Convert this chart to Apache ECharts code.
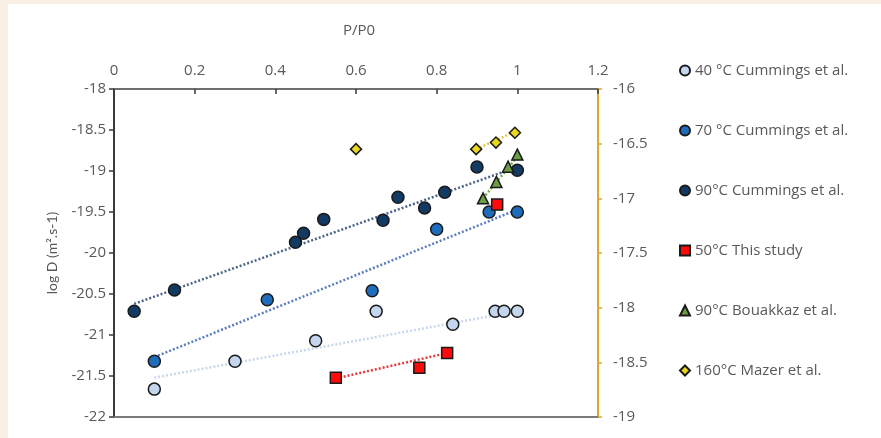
<!DOCTYPE html>
<html>
<head>
<meta charset="utf-8">
<script src="https://cdn.jsdelivr.net/npm/echarts@6/dist/echarts.min.js"></script>
<style>
html,body{margin:0;padding:0;background:#FAEFE5;}
#wrap{position:absolute;left:8px;top:4px;width:873px;height:434px;background:#ffffff;}
#chart{position:absolute;left:-8px;top:-4px;width:881px;height:438px;}
</style>
</head>
<body>
<div id="wrap"><div id="chart"></div></div>
<script>
// ---- data ----
const seriesNames = ['40 °C Cummings et al.', '70 °C Cummings et al.', '90°C Cummings et al.', '50°C This study', '90°C Bouakkaz et al.', '160°C Mazer et al.'];

const p40 = [0.1, 0.3, 0.5, 0.65, 0.84, 0.945, 0.967, 1.0];
const d40 = [-21.66, -21.32, -21.07, -20.71, -20.87, -20.71, -20.71, -20.71];

const p70 = [0.1, 0.38, 0.64, 0.8, 0.93, 1.0];
const d70 = [-21.32, -20.57, -20.46, -19.71, -19.5, -19.5];

const p90 = [0.05, 0.15, 0.45, 0.47, 0.52, 0.667, 0.704, 0.77, 0.82, 0.9, 1.0];
const d90 = [-20.71, -20.45, -19.87, -19.76, -19.59, -19.6, -19.32, -19.45, -19.26, -18.95, -18.99];

const p50 = [0.55, 0.757, 0.826, 0.95];
const d50 = [-21.52, -21.40, -21.22, -19.41];

const pB = [0.915, 0.948, 0.977, 1.0];
const dB = [-17.0, -16.85, -16.71, -16.6];   // right axis

const pM = [0.6, 0.898, 0.947, 0.994];
const dM = [-16.55, -16.55, -16.49, -16.4];  // right axis

// trend line end points
const t40x = [0.1, 1.0],   t40y = [-21.52, -20.71];
const t70x = [0.1, 1.0],   t70y = [-21.27, -19.47];
const t90x = [0.05, 1.0],  t90y = [-20.62, -18.95];
const t50x = [0.55, 0.826], t50y = [-21.53, -21.22];
const tBx = [0.915, 1.0],  tBy = [-17.0, -16.62];
const tMx = [0.898, 0.994], tMy = [-16.55, -16.39];

const xTicks = [0, 0.2, 0.4, 0.6, 0.8, 1, 1.2];

// ---- helpers ----
const zip = (xs, ys) => xs.map((x, i) => [x, ys[i]]);
const FONT = 'Open Sans';
const GRAY = '#595959';

function pts(name, xs, ys, symbol, size, fill, yAxisIndex) {
  return {
    name: name, type: 'scatter', symbol: symbol, symbolSize: size,
    yAxisIndex: yAxisIndex || 0, z: 5,
    itemStyle: { color: fill, borderColor: '#1a1a1a', borderWidth: 1.5, opacity: 1 },
    data: zip(xs, ys)
  };
}
function trend(xs, ys, color, yAxisIndex) {
  return {
    type: 'line', yAxisIndex: yAxisIndex || 0, symbol: 'none', silent: true, z: 3,
    lineStyle: { color: color, width: 2.5, type: [2, 2] },
    data: zip(xs, ys)
  };
}

const chart = echarts.init(document.getElementById('chart'), null, { renderer: 'canvas' });
chart.setOption({
  animation: false,
  backgroundColor: 'transparent',
  textStyle: { fontFamily: FONT },
  grid: { left: 114, top: 89, right: 283, bottom: 21, containLabel: false },
  legend: {
    orient: 'vertical', left: 674, top: 58, itemGap: 45,
    itemWidth: 10, itemHeight: 10,
    textStyle: { color: GRAY, fontSize: 15, fontFamily: FONT },
    data: seriesNames
  },
  xAxis: [{
    type: 'value', position: 'top', min: 0, max: 1.2, interval: 0.2,
    name: 'P/P0', nameLocation: 'middle', nameGap: 51,
    nameTextStyle: { color: GRAY, fontSize: 15, padding: [0, 0, 0, 6] },
    axisLine: { show: true, lineStyle: { color: '#6e6e6e', width: 2 } },
    axisTick: { show: true, inside: true, length: 5, lineStyle: { color: '#3a3a3a', width: 1.5 } },
    axisLabel: { color: GRAY, fontSize: 15, margin: 11,
      formatter: v => { const t = xTicks.find(k => Math.abs(k - v) < 1e-6); return t === undefined ? '' : String(t); } },
    splitLine: { show: false }
  }, {
    type: 'value', position: 'bottom', min: 0, max: 1.2,
    axisLine: { show: true, onZero: false, lineStyle: { color: '#7a7a7a', width: 2 } },
    axisTick: { show: false }, axisLabel: { show: false }, splitLine: { show: false }
  }],
  yAxis: [{
    type: 'value', min: -22, max: -18, interval: 0.5,
    name: 'log D (m².s-1)', nameLocation: 'middle', nameGap: 55, nameRotate: 90,
    nameTextStyle: { color: GRAY, fontSize: 14, fontFamily: 'Lato' },
    axisLine: { show: true, onZero: false, lineStyle: { color: '#3a3a3a', width: 2 } },
    axisTick: { show: true, length: 5, lineStyle: { color: '#3a3a3a', width: 1.5 } },
    axisLabel: { color: GRAY, fontSize: 15, margin: 8 },
    splitLine: { show: false }
  }, {
    type: 'value', min: -19, max: -16, interval: 0.5, position: 'right',
    axisLine: { show: true, onZero: false, lineStyle: { color: '#D9A82E', width: 2 } },
    axisTick: { show: true, length: 4, lineStyle: { color: '#D9A82E', width: 1.5 } },
    axisLabel: { color: GRAY, fontSize: 15, margin: 15 },
    splitLine: { show: false }
  }],
  series: [
    trend(t90x, t90y, '#4d6488'),
    trend(t70x, t70y, '#5a7ec0'),
    trend(t40x, t40y, '#c8d8ec'),
    trend(t50x, t50y, '#e83a3a'),
    trend(tBx, tBy, '#7bab55', 1),
    trend(tMx, tMy, '#f0c040', 1),
    pts(seriesNames[0], p40, d40, 'circle', 12, '#c3d6ee'),
    pts(seriesNames[1], p70, d70, 'circle', 12, '#1f6cbb'),
    pts(seriesNames[2], p90, d90, 'circle', 12, '#123a62'),
    pts(seriesNames[3], p50, d50, 'rect', 11, '#ff0a0a'),
    pts(seriesNames[4], pB, dB, 'triangle', 11, '#6c9e44', 1),
    pts(seriesNames[5], pM, dM, 'diamond', 11, '#e9d81c', 1)
  ]
});
</script>
</body>
</html>
